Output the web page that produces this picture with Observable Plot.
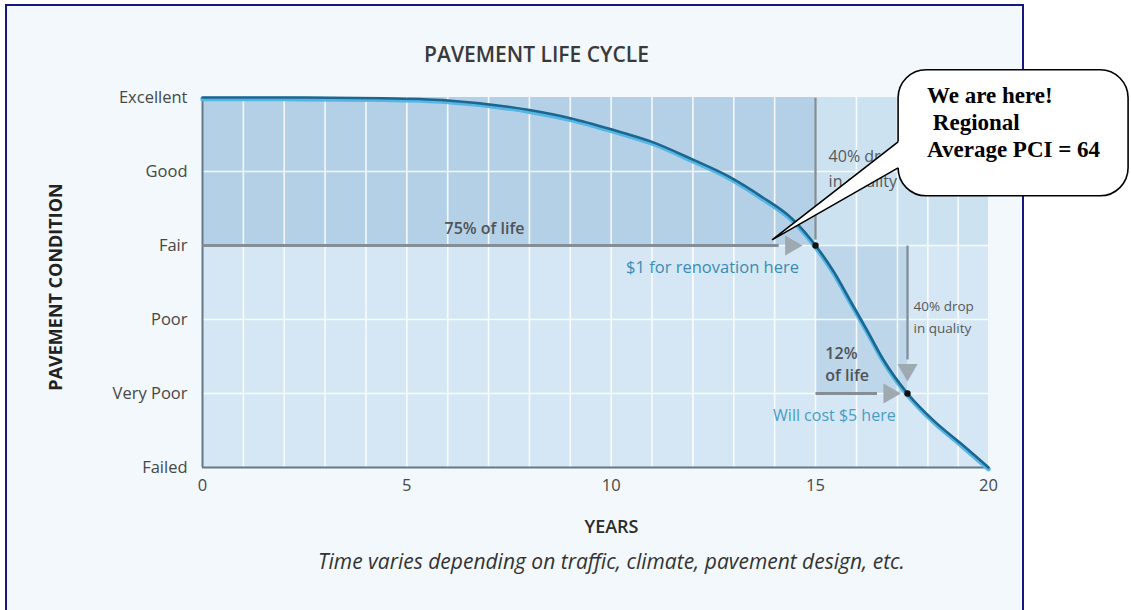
<!DOCTYPE html>
<html>
<head>
<meta charset="utf-8">
<script src="https://cdn.jsdelivr.net/npm/d3@7"></script>
<script src="https://cdn.jsdelivr.net/npm/@observablehq/plot@0.6"></script>
<style>
html, body { margin: 0; padding: 0; background: #ffffff; }
#wrap { position: relative; width: 1131px; height: 610px; overflow: hidden; }
#frame { position: absolute; left: 5px; top: 4px; width: 1019px; height: 620px; box-sizing: border-box;
         border: 2.5px solid #17177f; background: #f2f8fb; }
#chart { position: absolute; left: 0; top: 0; }
</style>
</head>
<body>
<div id="wrap"><div id="frame"></div><div id="chart"></div></div>
<script>
// ---- data ----
const levels = ["Failed", "Very Poor", "Poor", "Fair", "Good", "Excellent"];
const levelValues = [0, 1, 2, 3, 4, 5];
const yearTicks = [0, 5, 10, 15, 20];
const gridYears = [1, 2, 3, 4, 5, 6, 7, 8, 9, 10, 11, 12, 13, 14, 15, 16, 17, 18, 19];
const gridLevels = [1, 2, 3, 4];

// pavement condition curve (0 = Failed ... 5 = Excellent)
const years     = [0, 2, 4.4, 6.0, 8.0, 9.0, 10.0, 11.0, 12.0, 12.85, 13.65, 14.45, 15.0, 15.45, 15.85, 16.25, 16.65, 17.33, 18.2, 19.1, 20];
const condition = [5, 5, 4.99, 4.96, 4.83, 4.72, 4.57, 4.4, 4.16, 3.94, 3.67, 3.35, 3.0, 2.64, 2.25, 1.86, 1.46, 1.0, 0.63, 0.32, 0];

// shaded zones
const zoneX1 = [0, 0, 15, 15];
const zoneX2 = [20, 15, 20, 17.33];
const zoneY1 = [0, 3, 3, 1];
const zoneY2 = [5, 5, 5, 3];

// arrows
const arrowX1 = [0, 15, 15, 17.33];
const arrowX2 = [14.1, 15, 16.5, 17.33];
const arrowY1 = [3, 5, 1, 3];
const arrowY2 = [3, 3.08, 1, 1.46];
const headX = [14.4, 16.8, 17.33];
const headY = [3, 1, 1.32];
const headAngle = [90, 90, 180];

// key points
const pointYears = [15, 17.33];
const pointCond = [3, 1];

// callout anchor (year, condition)
const calloutYear = 13.95;
const calloutCond = 3.07;
const calloutLines = ["We are here!", " Regional", "Average PCI = 64"];

// the printed year axis is slightly compressed after year 17
const yearBreaks = [0, 15, 17, 20];

// ---- tables ----
const curve = years.map((y, i) => ({year: y, cond: condition[i]}));
const zoneFill = ["#d5e7f4", "#b4d0e7", "#cde2f1", "#bdd6ea"];
const zones = zoneX1.map((x, i) => ({x1: x, x2: zoneX2[i], y1: zoneY1[i], y2: zoneY2[i], fill: zoneFill[i]}));
const arrows = arrowX1.map((x, i) => ({x1: x, x2: arrowX2[i], y1: arrowY1[i], y2: arrowY2[i]}));
const heads = headX.map((x, i) => ({x, y: headY[i], a: headAngle[i]}));
const points = pointYears.map((x, i) => ({x, y: pointCond[i]}));

const font = "'Open Sans', 'DejaVu Sans', sans-serif";
const W = 1131, H = 610, mL = 202, mR = 143, mT = 97, mB = 143;
// piecewise pixel positions of the year breaks
const warp = d3.scaleLinear().domain(yearBreaks).range([mL, 815, 897, W - mR]);

const chart = Plot.plot({
  width: W,
  height: H,
  marginLeft: mL,
  marginRight: mR,
  marginTop: mT,
  marginBottom: mB,
  style: {background: "transparent", fontFamily: font, fontSize: "16.5px", color: "#474747", overflow: "visible"},
  x: {domain: [0, 20], interpolate: t => warp(20 * t), ticks: yearTicks, tickSize: 0, tickPadding: 12, label: null},
  y: {domain: [0, 5], ticks: levelValues, tickFormat: d => levels[d], tickSize: 0, tickPadding: 15, label: null},
  marks: [
    Plot.rect(zones, {x1: "x1", x2: "x2", y1: "y1", y2: "y2", fill: d => d.fill}),
    Plot.ruleX(gridYears, {y1: 0, y2: 5, stroke: "#ffffff", strokeWidth: 1.6, strokeOpacity: 0.85}),
    Plot.ruleY(gridLevels, {x1: 0, x2: 20, stroke: "#ffffff", strokeWidth: 1.6, strokeOpacity: 0.85}),
    Plot.ruleX([0], {y1: 0, y2: 5, stroke: "#64798a", strokeWidth: 2}),
    Plot.ruleY([0], {x1: 0, x2: 20, stroke: "#64798a", strokeWidth: 2}),
    Plot.link(arrows, {x1: "x1", y1: "y1", x2: "x2", y2: "y2", stroke: "#838e97", strokeWidth: d => d.y1 === d.y2 ? 3 : 2.3}),
    Plot.dot(heads, {x: "x", y: "y", rotate: "a", symbol: "triangle", r: 7.5, fill: "#9fa9b0", stroke: "none"}),
    Plot.line(curve, {x: "year", y: "cond", curve: "monotone-x", stroke: "#55b6e4", strokeWidth: 4.5, dy: 1.6}),
    Plot.line(curve, {x: "year", y: "cond", curve: "monotone-x", stroke: "#1c6690", strokeWidth: 2.6}),
    Plot.dot(points, {x: "x", y: "y", r: 3.2, fill: "#111111"}),
    // annotations
    Plot.text(["75% of life"], {x: 6.9, y: 3.22, fontWeight: 600, fontSize: 16, fill: "#4f5356"}),
    Plot.text(["$1 for renovation here"], {x: 12.48, y: 2.70, fontSize: 16.5, fill: "#3a8cb6"}),
    Plot.text(["40% drop", "in quality"], {x: 15.32, y: [4.2, 3.86], textAnchor: "start", fontSize: 16, fill: "#55595c"}),
    Plot.text(["40% drop", "in quality"], {x: 17.53, y: [2.18, 1.87], textAnchor: "start", fontSize: 13.5, fill: "#55595c"}),
    Plot.text(["12%", "of life"], {x: 15.24, y: [1.54, 1.24], textAnchor: "start", fontWeight: 600, fontSize: 16, fill: "#4f5356"}),
    Plot.text(["Will cost $5 here"], {x: 15.46, y: 0.70, fontSize: 16, fill: "#4a9cc5"}),
    // titles
    Plot.text(["PAVEMENT LIFE CYCLE"], {frameAnchor: "top", dx: -59, dy: -50, fontSize: 21, fontWeight: 600, fill: "#3a3a3a"}),
    Plot.text(["YEARS"], {frameAnchor: "bottom", dx: 16, dy: 65, fontSize: 18, fontWeight: 600, fill: "#2b2b2b"}),
    Plot.text(["Time varies depending on traffic, climate, pavement design, etc."], {frameAnchor: "bottom", dx: 16, dy: 101, fontSize: 21, fontStyle: "italic", fill: "#333333"})
  ]
});
document.getElementById("chart").appendChild(chart);

const svg = d3.select(chart);
const yPix = d3.scaleLinear().domain([0, 5]).range([H - mB, mT]);

// vertical axis title
svg.append("text")
  .attr("transform", `translate(57,${yPix(2.5) + 5}) rotate(-90)`)
  .attr("text-anchor", "middle").attr("dominant-baseline", "middle")
  .attr("font-family", font).attr("font-weight", "bold").attr("font-size", 18).attr("fill", "#222222")
  .text("PAVEMENT CONDITION");

// ---- speech-bubble callout anchored on the curve ----
const tx = warp(calloutYear), ty = yPix(calloutCond);
const L = tx + 126, T = ty - 170, R = tx + 356, B = ty - 44, rr = 28;
const aTop = [L, ty - 98];
const lowY = B - rr;
const aLow = [L, lowY];
const g = svg.append("g");
g.append("rect").attr("x", L).attr("y", T).attr("width", R - L).attr("height", B - T)
  .attr("rx", rr).attr("ry", rr).attr("fill", "#ffffff").attr("stroke", "#000000").attr("stroke-width", 1.6);
g.append("path").attr("d", `M${tx},${ty}L${aTop[0]},${aTop[1]}L${L + 18},${aTop[1]}L${L + 18},${lowY}L${aLow[0]},${aLow[1]}Z`)
  .attr("fill", "#ffffff").attr("stroke", "none");
g.append("path").attr("d", `M${aTop[0]},${aTop[1]}L${tx},${ty}L${aLow[0]},${aLow[1]}`)
  .attr("fill", "none").attr("stroke", "#000000").attr("stroke-width", 1.6).attr("stroke-linejoin", "miter");
g.selectAll("text.callout").data(calloutLines).join("text")
  .attr("class", "callout")
  .attr("x", L + 29).attr("y", (d, i) => T + 33 + i * 27)
  .attr("text-anchor", "start")
  .attr("font-family", "'Liberation Serif', 'DejaVu Serif', serif")
  .attr("font-weight", "bold").attr("font-size", 23).attr("fill", "#000000")
  .style("white-space", "pre")
  .text(d => d);
</script>
</body>
</html>
